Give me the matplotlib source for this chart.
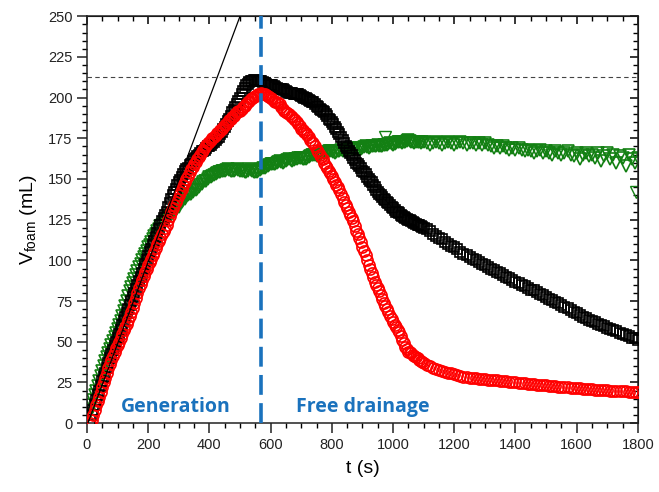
import numpy as np
import matplotlib
matplotlib.use('Agg')
import matplotlib.pyplot as plt
from matplotlib.ticker import MultipleLocator

plt.rcParams['font.family'] = ['Liberation Sans', 'DejaVu Sans']

# time axis (s): every 5 s up to 1100 s, then every 10 s
t_early = np.arange(0, 1101, 5)
t_late = np.arange(1110, 1801, 10)

# foam volume (mL)
black_early = [
    np.nan, np.nan, 2, 5, 8, 11, 14, 17, 20, 23,
    26, 28.5, 31, 34, 37, 40, 42.5, 45, 47.5, 50,
    52.5, 55, 57.5, 60, 62.5, 65, 67.5, 70, 72.5, 75,
    77.5, 80, 82.5, 85, 87.5, 90, 92.5, 95, 97.5, 100,
    102.5, 105, 107, 109.5, 112, 114.5, 117, 119.5, 122, 124,
    126, 128, 130, 132.5, 135, 137.5, 140, 142, 144, 146,
    148, 149.5, 151, 153, 155, 156, 157, 158.5, 159.5, 161,
    162, 163, 164, 165, 166, 167, 167.5, 168, 169, 170,
    170.5, 171, 172, 173, 174, 175, 176, 177.5, 179, 180.5,
    182, 184, 185.5, 187, 189, 191, 192.5, 194, 196, 198,
    200, 202, 204, 206, 207.5, 208.5, 209.5, 210, 210.5, 211,
    211, 210.5, 210, 210, 210, 209.5, 209, 208.5, 208, 208,
    208, 207.5, 207, 206.5, 206, 205.5, 205, 205, 205, 204.5,
    204, 203.5, 203, 203, 203, 202.5, 202, 202, 202, 201.5,
    201, 200.5, 200, 199.5, 199, 198.5, 198, 197.5, 197, 196,
    195, 194, 193, 192.5, 192, 191, 190, 188.5, 187, 186,
    185, 183.5, 182, 180.5, 179, 177.5, 176, 174, 172, 170.5,
    169, 167.5, 166, 164.5, 163, 161.5, 160, 159, 158, 156.5,
    155, 154, 153, 151.5, 150, 149, 148, 146.5, 145, 143.5,
    142, 141, 140, 139, 138, 137, 136, 135, 134, 133,
    132, 131, 130, 129.5, 129, 128, 127, 126.5, 126, 125.5,
    125, 124.5, 124, 123.5, 123, 122.5, 122, 121.5, 121, 120.5,
    120,
]
black_late = [
    119, 118, 116, 115, 114, 113, 111, 110, 109, 108,
    107, 105, 104, 103, 102, 101, 100, 99, 98, 97,
    96, 95, 94, 93, 92, 91, 90, 89, 88, 87,
    86, 85, 84, 83, 82, 81.5, 80.5, 79.5, 78.5, 77.5,
    76.5, 75.5, 74.5, 73.5, 72.5, 71.5, 70.5, 69.5, 68.5, 67.5,
    66.5, 65.5, 64.5, 63.5, 63, 62, 61, 60.5, 59.5, 58.5,
    58, 57, 56.5, 55.5, 55, 54, 53.5, 52.5, 52, 51,
]

red_early = [
    np.nan, np.nan, 0, 2, 5, 8, 11, 13.5, 16, 19,
    22, 25, 28, 31, 34, 36.5, 39, 41.5, 44, 46,
    48, 50, 52, 54.5, 57, 59, 61, 63.5, 66, 68.5,
    71, 74, 77, 80, 83, 85.5, 88, 90.5, 93, 95,
    97, 99, 101, 103, 105, 107.5, 110, 112, 114, 116,
    118, 120, 122, 124.5, 127, 129.5, 132, 134, 136, 138,
    140, 142, 144, 146, 148, 150, 152, 154, 156, 157.5,
    159, 160.5, 162, 163.5, 165, 166.5, 168, 169.5, 171, 172,
    173, 174, 175, 176, 177, 178, 179, 180, 181, 182,
    183, 184, 185, 186, 187, 188, 189, 190, 191, 191.5,
    192, 193, 194, 195, 196, 197, 198, 199, 200, 200.5,
    201, 201.5, 202, 202.5, 203, 202.5, 202, 201.5, 201, 200.5,
    200, 199, 198, 197.5, 197, 196.5, 196, 194.5, 193, 192,
    191, 190.5, 190, 189, 188, 187, 186, 185, 184, 182.5,
    181, 180, 179, 178, 177, 175.5, 174, 173, 172, 170,
    168, 166.5, 165, 163.5, 162, 160, 158, 156.5, 155, 153.5,
    152, 150, 148, 146.5, 145, 143, 141, 138.5, 136, 134,
    132, 130, 128, 126, 124, 121, 118, 116, 114, 111,
    108, 105.5, 103, 100, 97, 94.5, 92, 89.5, 87, 85,
    83, 81, 79, 76.5, 74, 72, 70, 68, 66, 64,
    62, 60.5, 59, 57.5, 56, 53.5, 51, 49, 47, 45.5,
    44, 43.5, 43, 42, 41, 40.5, 40, 39, 38, 37.5,
    37,
]
red_late = [
    36, 35, 34, 33, 32.5, 32, 31.5, 31, 30.5, 30,
    29.5, 29, 28.5, 28.2, 28, 27.8, 27.6, 27.4, 27.2, 27,
    26.8, 26.6, 26.4, 26.2, 26, 25.8, 25.6, 25.4, 25.2, 25,
    24.8, 24.6, 24.4, 24.2, 24, 23.8, 23.7, 23.5, 23.3, 23.2,
    23, 22.8, 22.7, 22.5, 22.3, 22.2, 22, 21.8, 21.7, 21.5,
    21.3, 21.2, 21, 20.8, 20.7, 20.5, 20.4, 20.3, 20.2, 20.1,
    20, 19.9, 19.8, 19.7, 19.6, 19.5, 19.4, 19.3, 19.2, 19.1,
]

green_early = [
    3, 5.5, 8, 11, 14, 17, 20, 23, 26, 29,
    32, 35, 38, 40.5, 43, 45.5, 48, 50.5, 53, 55.5,
    58, 60.5, 63, 66, 69, 72, 75, 78, 81, 83.5,
    86, 88.5, 91, 93.5, 96, 98, 100, 102, 104, 106,
    108, 109.5, 111, 113, 115, 116.5, 118, 119.5, 121, 122,
    123, 124, 125, 126, 127, 128, 129, 130, 131, 132,
    133, 134.5, 136, 137, 138, 139, 140, 140.5, 141, 142,
    143, 143.5, 144, 145, 146, 147, 148, 148.5, 149, 150,
    151, 151.5, 152, 152.5, 153, 153.5, 154, 154.5, 155, 155,
    155, 155.5, 156, 155.5, 155, 155, 155, 155.5, 156, 155.5,
    155, 155, 155, 154.5, 154, 155, 156, 155.5, 155, 154.5,
    154, 154.5, 155, 155.5, 156, 156.5, 157, 157.5, 158, 158.5,
    159, 159, 159, 159.5, 160, 160.5, 161, 160.5, 160, 160.5,
    161, 161.5, 162, 161.5, 161, 161.5, 162, 162.5, 163, 163,
    163, 162.5, 162, 162.5, 163, 163.5, 164, 164.5, 165, 164.5,
    164, 164.5, 165, 165.5, 166, 166, 166, 166.5, 167, 167,
    167, 166.5, 166, 166.5, 167, 167.5, 168, 167.5, 167, 167.5,
    168, 168.5, 169, 168.5, 168, 168.5, 169, 168.5, 168, 168.5,
    169, 169.5, 170, 169.5, 169, 169.5, 170, 170, 170, 170.5,
    171, 170.5, 170, 170.5, 171, 171, 171, 171.5, 172, 171.5,
    171, 171.5, 172, 172.5, 173, 172.5, 172, 172.5, 173, 173.5,
    174, 173.5, 173, 172.5, 172, 172.5, 173, 172.5, 172, 172.5,
    173,
]
green_late = [
    172, 171, 172, 173, 172, 171, 172, 173, 172, 171,
    172, 173, 172, 171, 172, 172, 171, 172, 171, 172,
    171, 170, 169, 170, 169, 170, 169, 168, 169, 168,
    169, 168, 167, 168, 167, 166, 167, 168, 166, 167,
    166, 165, 167, 166, 165, 166, 167, 165, 164, 166,
    162, 165, 166, 164, 165, 163, 166, 161, 164, 166,
    162, 165, 160, 164, 163, 158, 165, 162, 160, 163,
]

# stray green points
green_extra_t = [975, 1795]
green_extra_v = [176, 142]

# linear fit of the generation stage
fit_slope = 0.503
fit_intercept = -1.5

v_max = 212.5      # horizontal reference
t_switch = 568     # end of generation

t = np.concatenate([t_early, t_late])
black_v = black_early + black_late
red_v = red_early + red_late
green_v = green_early + green_late

fig = plt.figure(figsize=(6.59, 4.92), dpi=100)
ax = fig.add_axes([0.132, 0.140, 0.836, 0.827])

ax.plot(t, green_v, ls='none', marker='v', ms=8.5, mfc='none', mec='#138013', mew=1.2, zorder=2)
ax.plot(green_extra_t, green_extra_v, ls='none', marker='v', ms=8.5, mfc='none', mec='#138013', mew=1.0, zorder=2)
ax.plot(t, black_v, ls='none', marker='s', ms=7.5, mfc='none', mec='black', mew=1.2, zorder=3)
ax.plot(t, red_v, ls='none', marker='o', ms=8, mfc='none', mec='#ff0000', mew=1.2, zorder=4)

tt = np.array([0, 1800])
ax.plot(tt, fit_slope * tt + fit_intercept, color='black', lw=0.9, zorder=5)

ax.axhline(v_max, color='#444444', lw=0.8, ls=(0, (4, 3)), zorder=1)
ax.axvline(t_switch, color='#1a72bd', lw=2.6, ls=(0, (5.5, 2.3)), zorder=6)

ax.text(291, 10, 'Generation', color='#1a72bd', fontsize=14, fontweight='bold',
        family=['Open Sans', 'DejaVu Sans'], ha='center', va='center')
ax.text(902, 10, 'Free drainage', color='#1a72bd', fontsize=14, fontweight='bold',
        family=['Open Sans', 'DejaVu Sans'], ha='center', va='center')

ax.set_xlim(0, 1800)
ax.set_ylim(0, 250)
ax.xaxis.set_major_locator(MultipleLocator(200))
ax.xaxis.set_minor_locator(MultipleLocator(50))
ax.yaxis.set_major_locator(MultipleLocator(25))
ax.yaxis.set_minor_locator(MultipleLocator(5))
ax.tick_params(which='major', direction='out', length=7, width=1.1, labelsize=10.5, colors='#222222')
ax.tick_params(which='minor', direction='out', length=3.5, width=1.0)
for s in ax.spines.values():
    s.set_linewidth(1.1)
    s.set_color('#222222')

top = ax.secondary_xaxis('top')
top.xaxis.set_major_locator(MultipleLocator(200))
top.xaxis.set_minor_locator(MultipleLocator(50))
top.tick_params(which='major', direction='in', length=6, width=1.1, labeltop=False)
top.tick_params(which='minor', direction='in', length=3.5, width=1.0)
right = ax.secondary_yaxis('right')
right.yaxis.set_major_locator(MultipleLocator(25))
right.yaxis.set_minor_locator(MultipleLocator(5))
right.tick_params(which='major', direction='in', length=6, width=1.1, labelright=False)
right.tick_params(which='minor', direction='in', length=3.5, width=1.0)

ax.set_xlabel('t (s)', fontsize=14, labelpad=6)
ax.set_ylabel(r'V$_{\mathregular{foam}}$ (mL)', fontsize=14, labelpad=6)

fig.savefig('out.png', dpi=100)
